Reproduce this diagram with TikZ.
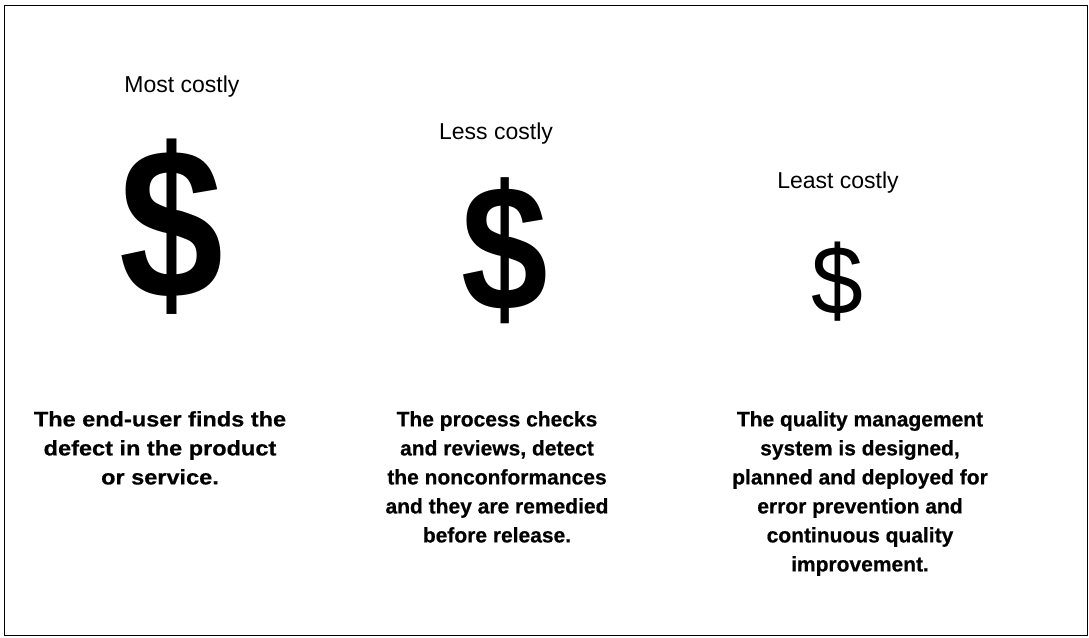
\documentclass[tikz,border=0pt]{standalone}
\usepackage{fontspec}
\setmainfont{Liberation Sans}
\newfontfamily\heavyfont{Liberation Sans}[FakeBold=0.6]
\newfontfamily\wideheavyfont{Liberation Sans}[FakeBold=0.6,FakeStretch=1.12]
\newfontfamily\narrowfont{Liberation Sans}[FakeStretch=0.87]
\newfontfamily\slimfont{Liberation Sans}[FakeStretch=0.95]
\begin{document}
\begin{tikzpicture}[x=1pt,y=-1pt,
          cost/.style={font=\fontsize{23}{27}\selectfont, inner sep=0pt, anchor=base},
          dollar/.style={inner sep=0pt},
          case/.style={font=\heavyfont\bfseries\fontsize{21}{29}\selectfont, align=center, inner sep=0pt, anchor=north}
        ]
          \useasboundingbox (0,0) rectangle (1089,637);
          % Frame
          \draw[line width=1pt] (4,5) rectangle (1087,635);

          % Cost labels
          \node[cost] (most) at (182,92) {Most costly};
          \node[cost] (less) at (496,139) {Less costly};
          \node[cost] (least) at (838,188) {Least costly};

          % Dollar signs
          \node[dollar, font=\narrowfont\bfseries\fontsize{215}{215}\selectfont] (bigdollar) at (172,227) {\$};
          \node[dollar, font=\narrowfont\bfseries\fontsize{179}{179}\selectfont] (middollar) at (505,251) {\$};
          \node[dollar, font=\slimfont\fontsize{98}{98}\selectfont] (smalldollar) at (837,282) {\$};

          % Descriptions
          \node[case, font=\wideheavyfont\bfseries\fontsize{21}{29}\selectfont] (user) at (160,411) {The end-user finds the\\defect in the product\\or service.};
          \node[case] (process) at (497,411) {The process checks\\and reviews, detect\\the nonconformances\\and they are remedied\\before release.};
          \node[case] (qms) at (860,411) {The quality management\\system is designed,\\planned and deployed for\\error prevention and\\continuous quality\\improvement.};
        \end{tikzpicture}
\end{document}
